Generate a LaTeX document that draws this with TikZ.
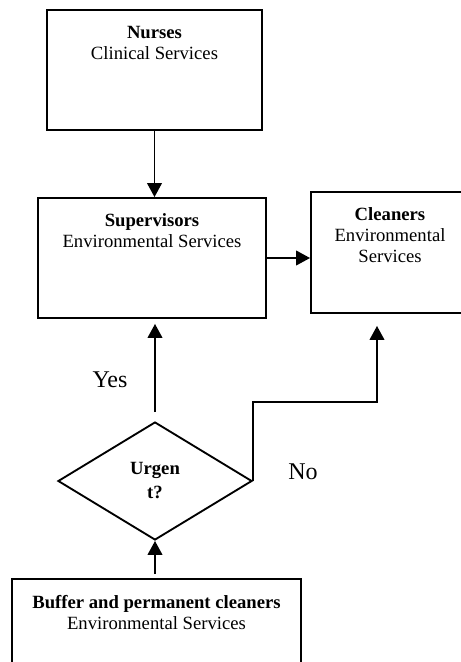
\documentclass[tikz,border=0pt]{standalone}
\usepackage{fontspec}
\setmainfont{Liberation Serif}
\usetikzlibrary{shapes.geometric,arrows.meta,positioning}
\def\pxu{0.75pt}

\begin{document}
\begin{tikzpicture}[x=0.75pt,y=-0.75pt,line width=1.4pt,
  box/.style={draw,rectangle,inner sep=0pt},
  lbl/.style={align=center,inner sep=0pt,font=\fontsize{14}{15.75}\selectfont},
  arr/.style={-{Triangle[length=10.5pt,width=11pt]}}]
\clip (0,0) rectangle (461,662);
%boxes
\node[box,minimum width=215*\pxu,minimum height=120*\pxu] (nurses) at (154.5,70) {};
\node[box,minimum width=228*\pxu,minimum height=120*\pxu] (sup) at (152,258) {};
\node[box,minimum width=158*\pxu,minimum height=121*\pxu] (clean) at (390,252.5) {};
\node[box,minimum width=289*\pxu,minimum height=120*\pxu] (buffer) at (156.5,639) {};
\node[draw,diamond,minimum width=194*\pxu,minimum height=118*\pxu,inner sep=0pt,
  align=center,font=\fontsize{14}{18}\selectfont\bfseries] (urgent) at (155,481) {Urgen\\t?};
%texts
\node[lbl,below=12pt of nurses.north] (nurseslbl) {\textbf{Nurses}\\Clinical Services};
\node[lbl,below=12pt of sup.north] (suplbl) {\textbf{Supervisors}\\Environmental Services};
\node[lbl,below=12pt of clean.north] (cleanlbl) {\textbf{Cleaners}\\Environmental\\Services};
\node[lbl,below=12pt of buffer.north] (bufferlbl) {\textbf{Buffer and permanent cleaners}\\Environmental Services};
\node[font=\fontsize{18}{21}\selectfont] (yes) at (110,380) {Yes};
\node[font=\fontsize{18}{21}\selectfont] (no) at (303,472) {No};
%arrows
\draw[arr] (nurses.south) -- (nurses.south |- sup.north);
\draw[arr] (sup.east) -- (sup.east -| clean.west);
\draw[arr,shorten <=9*\pxu,shorten >=5*\pxu] (urgent.north) -- (urgent.north |- sup.south);
\coordinate (nobend) at (377,402);
\draw[arr,shorten >=12*\pxu] (urgent.east) |- (nobend) -- (nobend |- clean.south);
\draw[arr,shorten <=4*\pxu] (urgent.south |- buffer.north) -- (urgent.south);
\end{tikzpicture}
\end{document}
